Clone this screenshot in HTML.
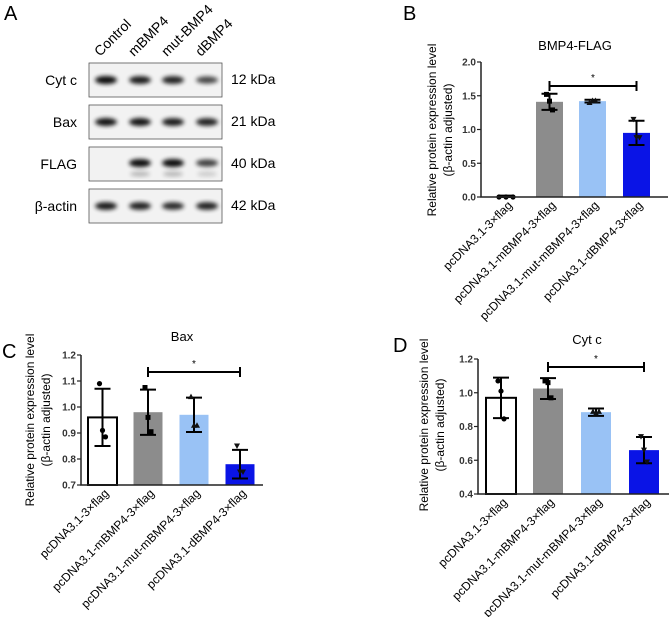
<!DOCTYPE html>
<html><head><meta charset="utf-8"><style>
body{margin:0;background:#fff}
svg{display:block;font-family:"Liberation Sans",sans-serif}
</style></head><body>
<svg id="fig" width="669" height="617" viewBox="0 0 669 617">
<defs><filter id="blur" x="-50%" y="-50%" width="200%" height="200%"><feGaussianBlur stdDeviation="2.2"/></filter></defs>
<g font-size="20">
<text x="4" y="20">A</text>
<text x="403" y="20">B</text>
<text x="2" y="358">C</text>
<text x="393" y="352">D</text>
</g>
<g id="blot"></g>
<g id="pb"></g>
<g id="pc"></g>
<g id="pd"></g>
</svg>
<script>
const categories=["pcDNA3.1-3×flag","pcDNA3.1-mBMP4-3×flag","pcDNA3.1-mut-mBMP4-3×flag","pcDNA3.1-dBMP4-3×flag"];
const laneLabels=["Control","mBMP4","mut-BMP4","dBMP4"];
const blotRows=["Cyt c","Bax","FLAG","β-actin"];
const blotKda=["12 kDa","21 kDa","40 kDa","42 kDa"];
const bMeans=[0.01,1.41,1.42,0.95];
const bSd=[0.01,0.12,0.02,0.18];
const bPoints=[[0,0,0],[1.52,1.42,1.29],[1.40,1.43,1.43],[1.15,0.88,0.88]];
const bTicks=[0,0.5,1.0,1.5,2.0];
const cMeans=[0.96,0.98,0.97,0.78];
const cSd=[0.11,0.087,0.066,0.055];
const cPoints=[[1.09,0.91,0.885],[1.075,0.96,0.905],[1.04,0.93,0.93],[0.85,0.75,0.75]];
const cTicks=[0.7,0.8,0.9,1.0,1.1,1.2];
const dMeans=[0.97,1.025,0.885,0.66];
const dSd=[0.12,0.062,0.022,0.078];
const dPoints=[[1.07,1.01,0.845],[1.07,1.06,0.97],[0.89,0.88,0.89],[0.74,0.66,0.59]];
const dTicks=[0.4,0.6,0.8,1.0,1.2];
const bandIntensity=[[1,0.9,0.85,0.6],[0.95,0.95,0.9,0.85],[0,1,1,0.65],[0.9,0.85,0.8,0.85]];

const NS="http://www.w3.org/2000/svg";
function mk(parent,tag,attrs,txt){const e=document.createElementNS(NS,tag);for(const k in attrs)e.setAttribute(k,attrs[k]);if(txt!==undefined)e.textContent=txt;parent.appendChild(e);return e;}

const blot=document.getElementById('blot');
const laneX=[106,140,173,207];
laneLabels.forEach((l,i)=>{const t=mk(blot,'text',{x:laneX[i]-6,y:57,'font-size':14,transform:`rotate(-45 ${laneX[i]-6} 57)`},l);

});
blotRows.forEach((r,j)=>{const y0=63+j*42;
const box=mk(blot,'rect',{x:89,y:y0,width:133,height:34,fill:'#f2f2f2',stroke:'#555','stroke-width':0.8});


const lt=mk(blot,'text',{x:77,y:y0+22,'font-size':14,'text-anchor':'end'},r);


const kt=mk(blot,'text',{x:231,y:y0+21,'font-size':14},blotKda[j]);


laneX.forEach((x,i)=>{const v=bandIntensity[j][i];if(v<=0)return;
const by=j===2?y0+16:y0+17;
const e=mk(blot,'ellipse',{cx:x,cy:by,rx:11,ry:3+v*1.0,fill:'#000',opacity:0.35+0.6*v,filter:'url(#blur)'});


if(j===2){const e2=mk(blot,'ellipse',{cx:x,cy:y0+27,rx:10,ry:2.5,fill:'#000',opacity:0.25*v,filter:'url(#blur)'});

}
});
});

const colors=['#ffffff','#8c8c8c','#99c2f5','#0a14e6'];
function panel(g,o,means,sd,pts,ticks){
const y=v=>o.y0+(v-o.vmin)/(o.vmax-o.vmin)*(o.y1-o.y0);
const t=mk(g,'text',{x:o.tx,y:o.ty,'font-size':13,'text-anchor':'middle'},o.title);


const yl=mk(g,'text',{transform:`translate(${o.ylx},${o.ylY}) rotate(-90)`,'font-size':12,'text-anchor':'middle'});


mk(yl,'tspan',{x:0,y:0},'Relative protein expression level');
mk(yl,'tspan',{x:0,y:16},'(β-actin adjusted)');
means.forEach((m,i)=>{const cx=o.cx[i];const top=y(m);
const white=i===0;
const b=mk(g,'rect',{x:cx-o.bw/2,y:Math.min(top,o.y0),width:o.bw,height:Math.abs(o.y0-top),fill:colors[i],stroke:white&&o.outline?'#000':'none','stroke-width':2});


const hi=y(m+sd[i]),lo=y(m-sd[i]);
const eb=mk(g,'path',{d:`M${cx},${hi}V${lo}M${cx-8},${hi}H${cx+8}M${cx-8},${lo}H${cx+8}`,stroke:'#000','stroke-width':2,fill:'none'});


pts[i].forEach((p,k)=>{const px=cx+(k-1)*(i===0&&o.spreadFirst?7:3);const py=y(p);let s;
if(i<2)s=mk(g,i===1?'rect':'circle',i===1?{x:px-2.5,y:py-2.5,width:5,height:5,fill:'#000'}:{cx:px,cy:py,r:2.6,fill:'#000'});
else if(i===2)s=mk(g,'path',{d:`M${px},${py-3}L${px+3},${py+2.5}L${px-3},${py+2.5}Z`,fill:'#111'});
else s=mk(g,'path',{d:`M${px},${py+3}L${px+3},${py-2.5}L${px-3},${py-2.5}Z`,fill:'#111'});

});
const lx=cx+7,ly=o.y0+9;
const xl=mk(g,'text',{x:lx,y:ly,'font-size':12,'text-anchor':'end',transform:`rotate(-45 ${lx} ${ly})`},categories[i]);


});
const ax=mk(g,'path',{d:`M${o.ax},${o.y1}V${o.y0}H${o.axEnd}`,stroke:'#222','stroke-width':1.5,fill:'none'});


ticks.forEach(tv=>{const ty=y(tv);
const tk=mk(g,'line',{x1:o.ax-4,x2:o.ax,y1:ty,y2:ty,stroke:'#222','stroke-width':1.2});


const tl=mk(g,'text',{x:o.ax-5,y:ty+3.5,'font-size':10,'font-weight':'bold','text-anchor':'end',fill:'#333'},tv.toFixed(1));

});
const sy=o.sigY;
const sg=mk(g,'path',{d:`M${o.cx[1]},${sy}H${o.cx[3]}M${o.cx[1]},${sy-5}V${sy+5}M${o.cx[3]},${sy-5}V${sy+5}`,stroke:'#000','stroke-width':2,fill:'none'});


const st=mk(g,'text',{x:(o.cx[1]+o.cx[3])/2,y:sy-5,'font-size':10,'text-anchor':'middle'},'*');


}
panel(document.getElementById('pb'),{title:'BMP4-FLAG',tx:575,ty:50,ylx:436,ylY:130,ax:481,axEnd:668,y0:197,y1:62,vmin:0,vmax:2,cx:[506,549.5,592.5,636.5],bw:27,sigY:86,outline:false,spreadFirst:true},bMeans,bSd,bPoints,bTicks);
panel(document.getElementById('pc'),{title:'Bax',tx:182,ty:341,ylx:34,ylY:420,ax:81,axEnd:263,y0:485,y1:355,vmin:0.7,vmax:1.2,cx:[102.5,148,194,240],bw:29,sigY:372,outline:true},cMeans,cSd,cPoints,cTicks);
panel(document.getElementById('pd'),{title:'Cyt c',tx:587,ty:344,ylx:428,ylY:425,ax:478,axEnd:669,y0:494,y1:359,vmin:0.4,vmax:1.2,cx:[501,548,596,644],bw:30,sigY:367,outline:true},dMeans,dSd,dPoints,dTicks);
</script>
</body></html>
